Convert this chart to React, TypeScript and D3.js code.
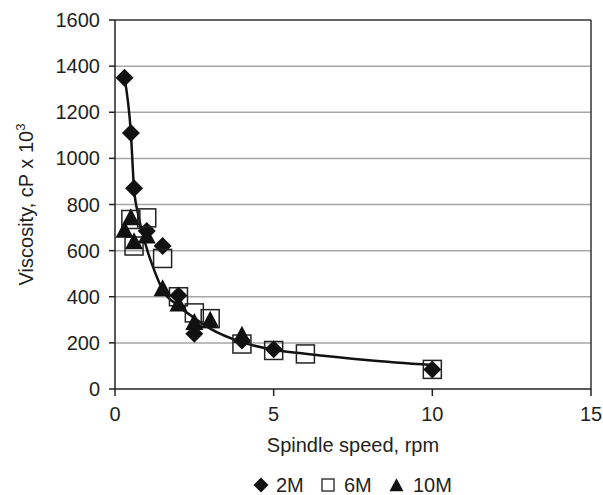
import React from "react";
import * as d3 from "d3";

const xTicks = [0, 5, 10, 15];
const yTicks = [0, 200, 400, 600, 800, 1000, 1200, 1400, 1600];

const s2M_x = [0.3, 0.5, 0.6, 1, 1.5, 2, 2.5, 4, 5, 10];
const s2M_y = [1350, 1110, 870, 685, 620, 405, 240, 210, 172, 85];
const s6M_x = [0.5, 0.6, 1, 1.5, 2, 2.5, 3, 4, 5, 6, 10];
const s6M_y = [735, 620, 742, 566, 400, 330, 305, 195, 167, 152, 85];
const s10M_x = [0.3, 0.5, 0.6, 1, 1.5, 2, 2.5, 3, 4];
const s10M_y = [685, 740, 635, 660, 432, 365, 285, 295, 230];

const trend_x = [0.3, 0.5, 0.6, 0.75, 1.0, 1.25, 1.5, 2.0, 2.5, 3.0, 4.0, 5.0, 6.0, 8.0, 10.0];
const trend_y = [1350, 1110, 870, 745, 610, 510, 430, 360, 308, 262, 203, 170, 153, 125, 104];

const legendLabels = ["2M", "6M", "10M"];

const FONT = "'Liberation Sans', Arial, Helvetica, sans-serif";
const TXT = "#231f20";

function diamond(cx: number, cy: number, r: number) {
  return `M${cx},${cy - r}L${cx + r},${cy}L${cx},${cy + r}L${cx - r},${cy}Z`;
}
function triangle(cx: number, cy: number, w: number, h: number) {
  return `M${cx},${cy - h * 0.6}L${cx + w / 2},${cy + h * 0.4}L${cx - w / 2},${cy + h * 0.4}Z`;
}

export default function App() {
  const x = d3.scaleLinear().domain([0, 15]).range([115, 591]);
  const y = d3.scaleLinear().domain([0, 1600]).range([389, 20]);

  const trend = trend_x.map((v, i) => [v, trend_y[i]] as [number, number]);
  const line = d3
    .line<[number, number]>()
    .x((d) => x(d[0]))
    .y((d) => y(d[1]))
    .curve(d3.curveMonotoneX);

  const legendY = 485;

  return (
    <svg
      width={603}
      height={495}
      style={{ position: "absolute", left: 0, top: 0, background: "#fff" }}
      fontFamily={FONT}
    >
      <rect x={0} y={0} width={603} height={495} fill="#fff" />
      {yTicks.slice(1, -1).map((t) => (
        <line key={t} x1={x(0)} x2={x(15)} y1={y(t)} y2={y(t)} stroke="#a6a6a6" strokeWidth={1.5} />
      ))}
      <line x1={x(0)} x2={x(15)} y1={y(1600)} y2={y(1600)} stroke="#333" strokeWidth={1.5} />
      <line x1={x(15)} x2={x(15)} y1={y(1600)} y2={y(0)} stroke="#333" strokeWidth={1.5} />
      <line x1={x(0)} x2={x(0)} y1={y(1600)} y2={y(0)} stroke="#222" strokeWidth={1.5} />
      <line x1={x(0)} x2={x(15)} y1={y(0)} y2={y(0)} stroke="#222" strokeWidth={1.5} />
      {yTicks.map((t) => (
        <g key={"yt" + t}>
          <line x1={x(0) - 6} x2={x(0)} y1={y(t)} y2={y(t)} stroke="#222" strokeWidth={1.5} />
          <text x={100} y={y(t)} dy="0.35em" textAnchor="end" fontSize={20} fill={TXT}>
            {t}
          </text>
        </g>
      ))}
      {xTicks.map((t) => (
        <g key={"xt" + t}>
          <line x1={x(t)} x2={x(t)} y1={y(0)} y2={y(0) + 7} stroke="#222" strokeWidth={1.5} />
          <text x={x(t)} y={421} textAnchor="middle" fontSize={20} fill={TXT}>
            {t}
          </text>
        </g>
      ))}
      <text x={353} y={452} textAnchor="middle" fontSize={20} fill={TXT}>
        Spindle speed, rpm
      </text>
      <text
        transform={`translate(33,${(y(0) + y(1600)) / 2}) rotate(-90)`}
        textAnchor="middle"
        fontSize={20}
        fill={TXT}
      >
        Viscosity, cP x 10
        <tspan fontSize={13} dy={-8}>
          3
        </tspan>
      </text>
      <path d={line(trend) || ""} fill="none" stroke="#111" strokeWidth={2.5} />
      {s2M_x.map((v, i) => (
        <path key={"d" + i} d={diamond(x(v), y(s2M_y[i]), 9)} fill="#111" />
      ))}
      {s6M_x.map((v, i) => (
        <rect
          key={"s" + i}
          x={x(v) - 9}
          y={y(s6M_y[i]) - 9}
          width={18}
          height={18}
          fill="none"
          stroke="#222"
          strokeWidth={1.5}
        />
      ))}
      {s10M_x.map((v, i) => (
        <path key={"t" + i} d={triangle(x(v), y(s10M_y[i]), 18, 17)} fill="#111" />
      ))}
      <g>
        <path d={diamond(261, legendY, 7.5)} fill="#111" />
        <text x={276} y={legendY + 7} fontSize={20} fill={TXT}>
          {legendLabels[0]}
        </text>
        <rect x={322} y={legendY - 6} width={12} height={12} fill="none" stroke="#222" strokeWidth={1.3} />
        <text x={344} y={legendY + 7} fontSize={20} fill={TXT}>
          {legendLabels[1]}
        </text>
        <path d={triangle(396.5, legendY + 1, 14, 13)} fill="#111" />
        <text x={413} y={legendY + 7} fontSize={20} fill={TXT}>
          {legendLabels[2]}
        </text>
      </g>
    </svg>
  );
}
